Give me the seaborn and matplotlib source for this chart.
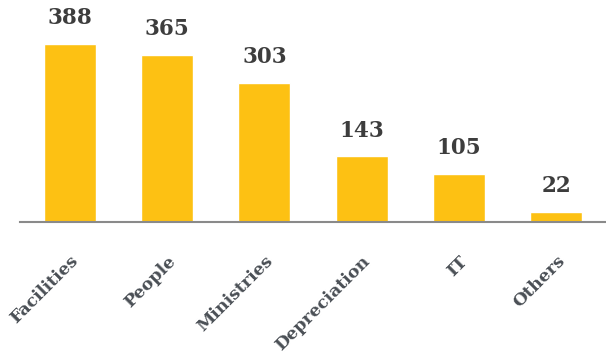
import matplotlib
matplotlib.use("Agg")
import matplotlib.pyplot as plt
import seaborn as sns
import pandas as pd

categories = ["Facilities", "People", "Ministries", "Depreciation", "IT", "Others"]
values = [388, 365, 303, 143, 105, 22]

sns.set_theme(style="white")
plt.rcParams["font.family"] = ["DejaVu Serif"]

df = pd.DataFrame({"category": categories, "value": values})

fig = plt.figure(figsize=(6.06, 3.54), dpi=100)
ax = fig.add_axes([20/606, 1 - 222/354, 586/606, 222/354])
sns.barplot(data=df, x="category", y="value", color="#FDC113", saturation=1,
            width=0.535, ax=ax)
ax.set_xlim(-0.51, 5.51)
ax.set_ylim(0, 484)
for i, v in enumerate(values):
    ax.annotate(str(v), (i, v), xytext=(0, 10.5), textcoords="offset points",
                ha="center", va="bottom", fontsize=15.5,
                fontweight="bold", color="#3d3d3d")
ax.set_xlabel("")
ax.set_ylabel("")
ax.set_yticks([])
for s in ["top", "right", "left"]:
    ax.spines[s].set_visible(False)
ax.spines["bottom"].set_color("#8a8a8a")
ax.spines["bottom"].set_linewidth(1.5)
ax.tick_params(axis="x", length=0, pad=22)
plt.setp(ax.get_xticklabels(), rotation=45, ha="right", rotation_mode="anchor",
         fontsize=12.5, fontweight="bold", color="#4a4f55")
fig.savefig("out.png", dpi=100)
